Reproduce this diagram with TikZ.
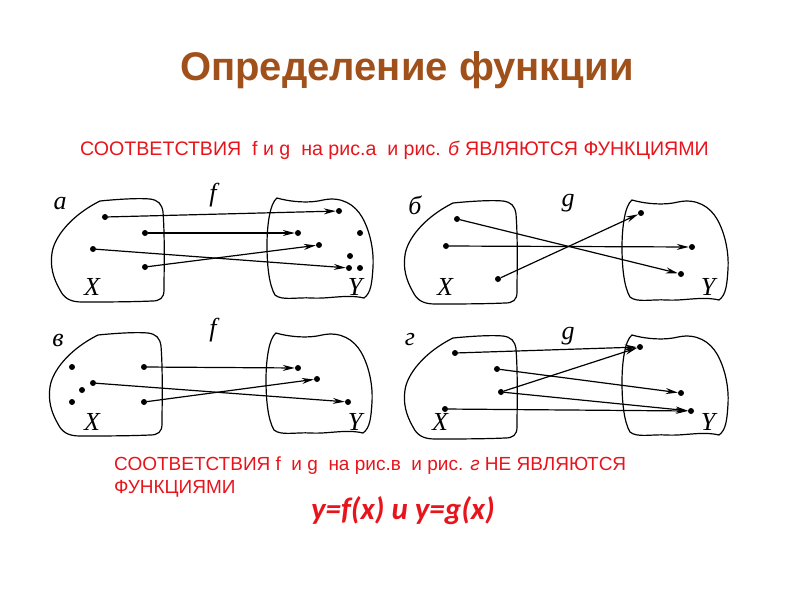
\documentclass[tikz,border=0pt]{standalone}
\usepackage{fontspec}
\setmainfont{Liberation Sans}
\newfontfamily\lserif{Liberation Serif}
\newfontfamily\carl{Carlito}
\usetikzlibrary{arrows.meta}
\definecolor{titlec}{HTML}{A0501A}
\definecolor{redt}{HTML}{E8141C}
\tikzset{
  dot/.style={circle,fill=black,inner sep=0pt,minimum size=6pt},
  arr/.style={line width=1.2pt,-{Stealth[length=12pt,width=6pt]}},
  blob/.style={line width=1.2pt},
  lbl/.style={font=\lserif\itshape\fontsize{26}{28}\selectfont,inner sep=0pt},
  leftblob/.pic={\draw[blob] (50,3) .. controls (70,1) and (90,0) .. (100,1) .. controls (108,2) and (112,6) .. (113,14) .. controls (115,40) and (114,75) .. (114,92) .. controls (114,100) and (110,103) .. (102,103) .. controls (80,104) and (50,104) .. (32,104) .. controls (20,104) and (14,100) .. (10,92) .. controls (3,80) and (0,68) .. (2,55) .. controls (4,40) and (20,18) .. (50,3) -- cycle;},
  rightblob/.pic={\draw[blob] (10,3) .. controls (20,6) and (40,9) .. (56,5) .. controls (75,1) and (88,10) .. (95,22) .. controls (103,36) and (107,55) .. (106,72) .. controls (105,88) and (104,98) .. (97,103) .. controls (80,99) and (62,104) .. (45,103) .. controls (30,102) and (15,106) .. (8,100) .. controls (2,90) and (0,70) .. (0,50) .. controls (0,30) and (3,8) .. (10,3) -- cycle;},
  rtext/.style={text=redt,font=\fontsize{19}{21}\selectfont,inner sep=0pt,anchor=west}
}
\begin{document}
\begin{tikzpicture}[x=1pt,y=-1pt]
\useasboundingbox (0,0) rectangle (800,600);
\node[text=titlec,font=\bfseries\fontsize{40}{44}\selectfont] (title) at (407,70) {Определение функции};
\node[rtext,font=\fontsize{19.6}{21}\selectfont] (t1) at (80,150) {СООТВЕТСТВИЯ \ f и g \ на рис.а \ и рис. \textit{б} ЯВЛЯЮТСЯ ФУНКЦИЯМИ};
% ---- a
\pic at (50,198) {leftblob};
\pic at (267,195) {rightblob};
\node[lbl] (la) at (60,204) {a};
\node[lbl] (lf1) at (213,195) {f};
\node[lbl] (xa) at (92,287) {X};
\node[lbl] (ya) at (355,287) {Y};
\node[dot] (a1) at (105,217) {};
\node[dot] (a2) at (145,233) {};
\node[dot] (a3) at (93,249) {};
\node[dot] (a4) at (145,267) {};
\node[dot] (b1) at (339,211) {};
\node[dot] (b2) at (298,233) {};
\node[dot] (b3) at (319,245) {};
\node[dot] (b4) at (360,233) {};
\node[dot] (b5) at (350,256) {};
\node[dot] (b6) at (349,268) {};
\node[dot] (b7) at (360,268) {};
\draw[arr] (a1) -- (b1);
\draw[arr] (a2) -- (b2);
\draw[arr] (a3) -- (b6);
\draw[arr] (a4) -- (b3);
% ---- б
\pic at (403,200) {leftblob};
\pic at (622,197) {rightblob};
\node[lbl] (lb) at (415,205) {б};
\node[lbl] (lg1) at (568,203) {g};
\node[lbl] (xb) at (445,287) {X};
\node[lbl] (yb) at (708,287) {Y};
\node[dot] (c1) at (457,219) {};
\node[dot] (c2) at (446,246) {};
\node[dot] (c3) at (498,279) {};
\node[dot] (d1) at (641,213) {};
\node[dot] (d2) at (692,247) {};
\node[dot] (d3) at (681,274) {};
\draw[arr] (c1) -- (d3);
\draw[arr] (c2) -- (d2);
\draw[arr] (c3) -- (d1);
% ---- в
\pic at (48,332) {leftblob};
\pic at (266,330) {rightblob};
\node[lbl] (lv) at (58,340) {в};
\node[lbl] (lf2) at (213,330) {f};
\node[lbl] (xv) at (92,422) {X};
\node[lbl] (yv) at (355,422) {Y};
\node[dot] (e1) at (72,367) {};
\node[dot] (e2) at (93,383) {};
\node[dot] (e3) at (82,390) {};
\node[dot] (e4) at (72,402) {};
\node[dot] (e5) at (144,367) {};
\node[dot] (e6) at (144,402) {};
\node[dot] (h1) at (298,368) {};
\node[dot] (h2) at (317,379) {};
\node[dot] (h3) at (348,402) {};
\draw[arr] (e5) -- (h1);
\draw[arr] (e2) -- (h3);
\draw[arr] (e6) -- (h2);
% ---- г
\pic at (403,335) {leftblob};
\pic at (622,332) {rightblob};
\node[lbl] (lgg) at (410,340) {г};
\node[lbl] (lg2) at (568,336) {g};
\node[lbl] (xg) at (440,422) {X};
\node[lbl] (yg) at (708,422) {Y};
\node[dot] (k1) at (455,353) {};
\node[dot] (k2) at (497,369) {};
\node[dot] (k3) at (501,392) {};
\node[dot] (k4) at (445,409) {};
\node[dot] (m1) at (640,347) {};
\node[dot] (m2) at (681,393) {};
\node[dot] (m3) at (691,411) {};
\draw[arr] (k1) -- (m1);
\draw[arr] (k2) -- (m2);
\draw[arr] (k3) -- (m1);
\draw[arr] (k3) -- (m3);
\draw[arr] (k4) -- (m3);
% ---- bottom text
\node[rtext] (t2) at (114,466) {СООТВЕТСТВИЯ f \ и g \ на рис.в \ и рис. \textit{г} НЕ ЯВЛЯЮТСЯ};
\node[rtext] (t3) at (114,489) {ФУНКЦИЯМИ};
\node[text=redt,font=\carl\bfseries\itshape\fontsize{31}{34}\selectfont,inner sep=0pt] (formula) at (403,511) {y=f(x) и y=g(x)};
\end{tikzpicture}
\end{document}
